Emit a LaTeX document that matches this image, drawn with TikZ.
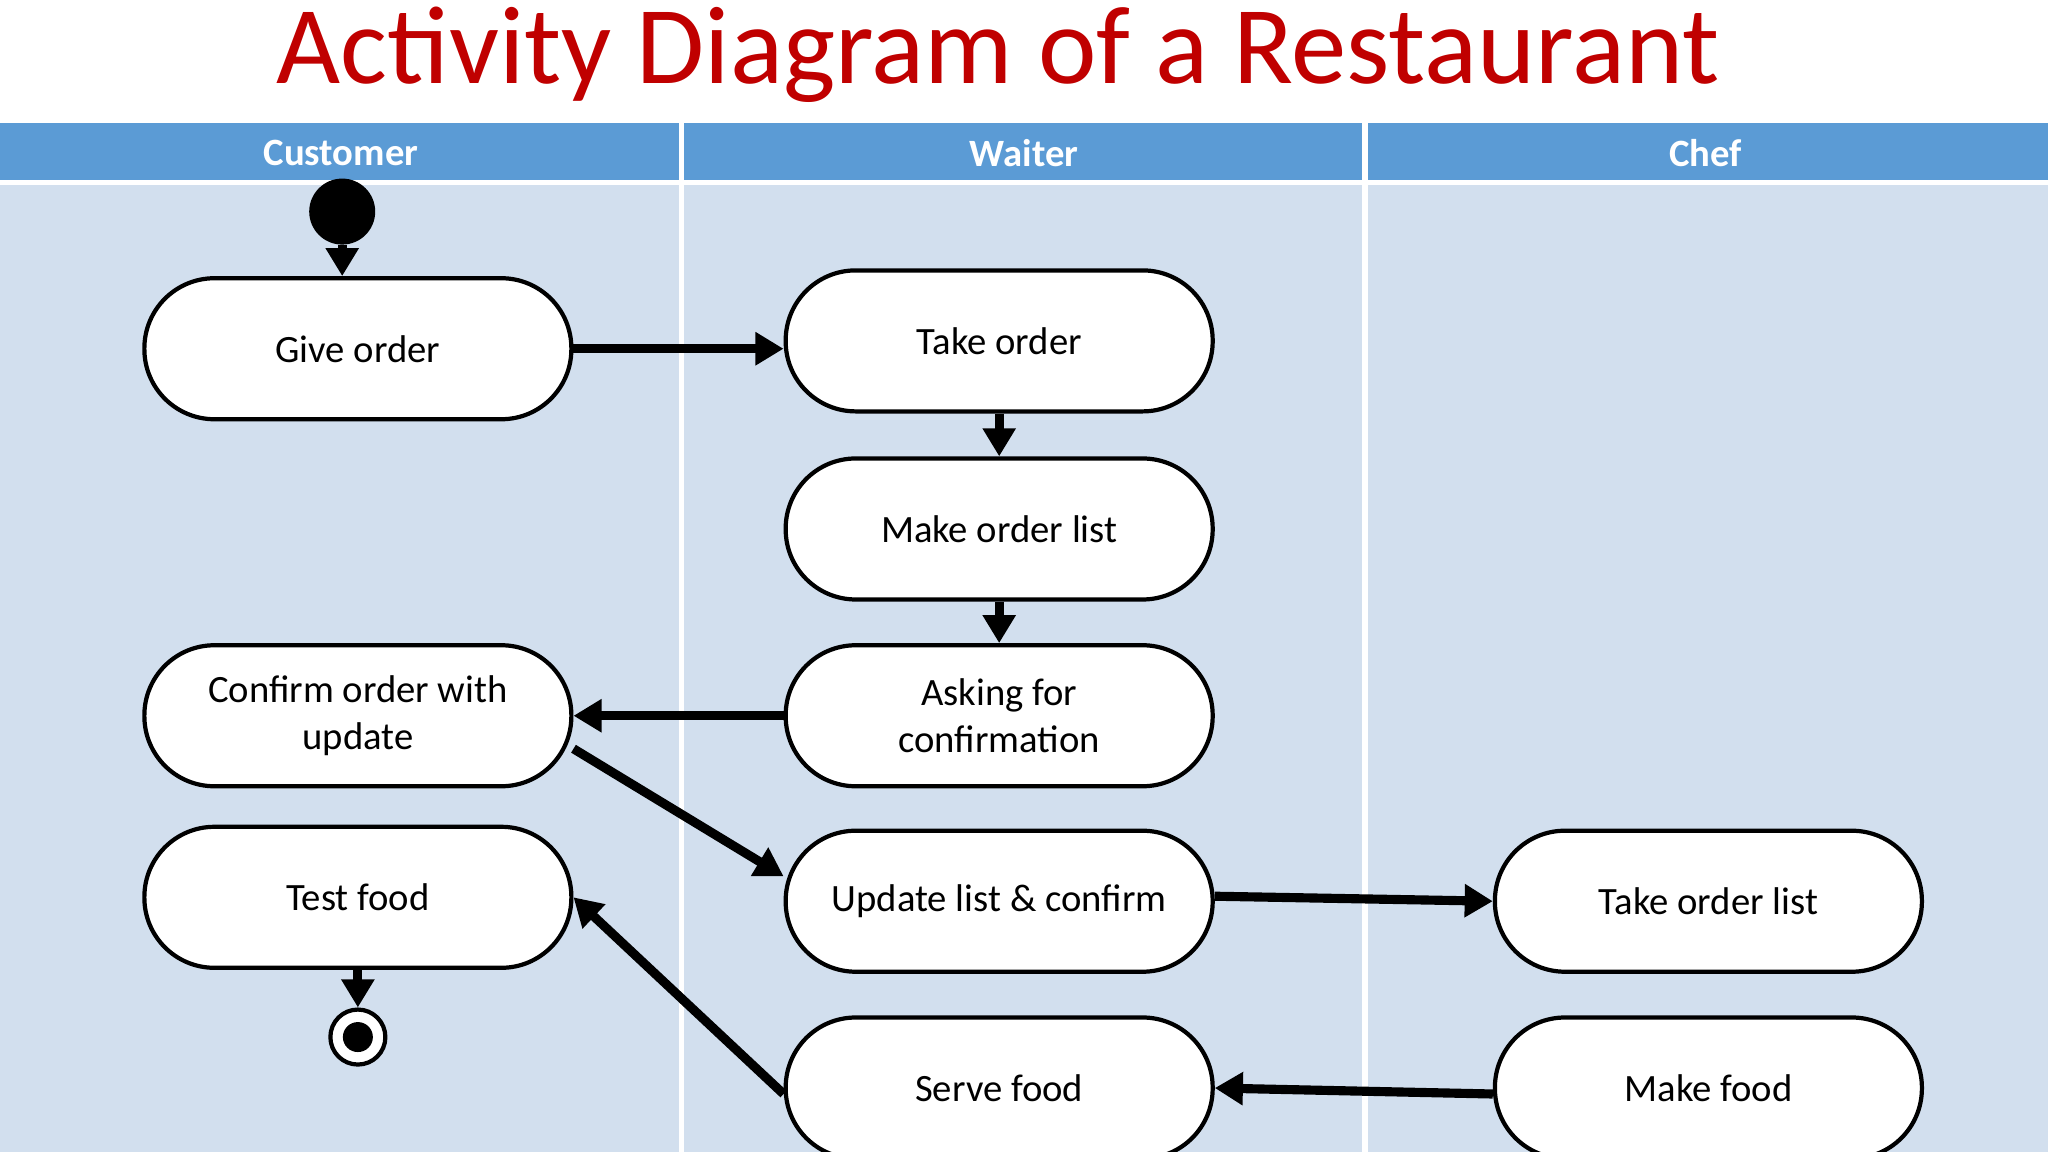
\documentclass[tikz,border=0pt]{standalone}
\usepackage{fontspec}
\setmainfont{Carlito}
\usetikzlibrary{arrows.meta}
\definecolor{titlered}{HTML}{C00000}
\definecolor{hdr}{HTML}{5B9BD5}
\definecolor{lane}{HTML}{D2DFEE}
\begin{document}
\begin{tikzpicture}[x=0.013061cm,y=-0.013061cm,
  act/.style={draw=black,line width=1.2pt,fill=white,rounded corners=0.7cm,minimum width=4.27cm,minimum height=1.41cm,inner sep=2pt,align=center,font=\fontsize{11}{13.2}\selectfont},
  flow/.style={line width=2.6pt,-{Triangle[length=8pt,width=9pt]}},
  hdrtxt/.style={text=white,font=\bfseries\fontsize{11}{13}\selectfont}]
\useasboundingbox (0,0) rectangle (1568,882);
\clip (0,0) rectangle (1568,882);
\fill[white] (0,0) rectangle (1568,882);
\node (title) at (764,42) {\textcolor{titlered}{\fontsize{31.5}{38}\selectfont Activity Diagram of a Restaurant}};
\fill[hdr] (0,94) rectangle (1568,138);
\fill[lane] (0,142) rectangle (1568,882);
\draw[white,line width=1.5pt] (522,94) -- (522,882) (1045,94) -- (1045,882);
\node[hdrtxt] (h1) at (261,117) {Customer};
\node[hdrtxt] (h2) at (784,117) {Waiter};
\node[hdrtxt] (h3) at (1306,117) {Chef};
\node[circle,fill=black,minimum size=0.66cm,inner sep=0] (start) at (262,162) {};
\node[act] (give) at (274,267) {Give order};
\node[act] (take) at (765,261) {Take order};
\node[act] (make) at (765,405) {Make order list};
\node[act] (ask) at (765,548) {Asking for\\confirmation};
\node[act] (conf) at (274,548) {Confirm order with\\update};
\node[act] (test) at (274,687) {Test food};
\node[act] (upd) at (765,690) {Update list \& confirm};
\node[act] (tol) at (1308,690) {Take order list};
\node[act] (mf) at (1308,833) {Make food};
\node[act] (serve) at (765,833) {Serve food};
\node[circle,draw=black,line width=1.2pt,fill=white,minimum size=0.55cm,inner sep=0] (end) at (274,794) {};
\fill[black] (end.center) circle (0.15cm);
\draw[flow] (start) -- (give.north -| start);
\draw[flow] (give.east) -- (take.west |- give.east);
\draw[flow] (take) -- (make);
\draw[flow] (make) -- (ask);
\draw[flow] (ask.west) -- (conf.east);
\draw[flow] ([yshift=-0.33cm]conf.east) -- ([yshift=0.25cm]upd.west);
\draw[flow] ([yshift=0.05cm]upd.east) -- (tol.west);
\draw[flow] ([yshift=-0.06cm]mf.west) -- (serve.east);
\draw[flow] ([yshift=-0.06cm]serve.west) -- (test.east);
\draw[flow] (test) -- (end);
\end{tikzpicture}
\end{document}
